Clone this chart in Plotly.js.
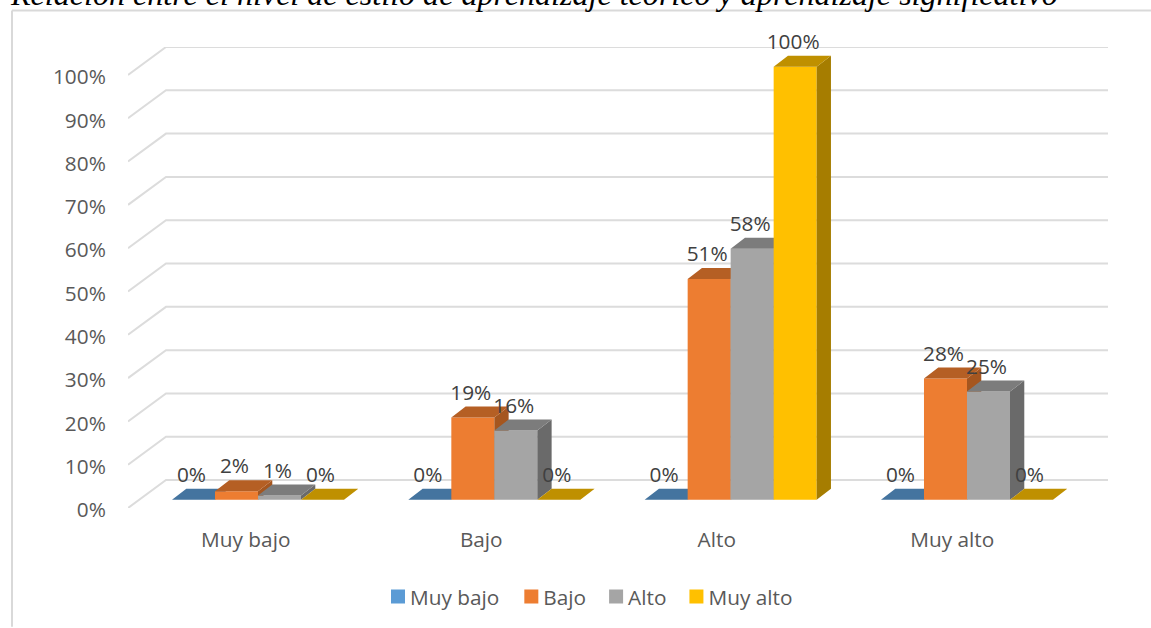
<!DOCTYPE html>
<html>
<head>
<meta charset="utf-8">
<script src="https://cdn.plot.ly/plotly-3.0.1.min.js"></script>
<style>html,body{margin:0;padding:0;background:#fff;overflow:hidden}#chart{width:1151px;height:628px}</style>
</head>
<body>
<div id="chart"></div>
<script>
// ---- data ----
const categories = ['Muy bajo', 'Bajo', 'Alto', 'Muy alto'];
const seriesNames = ['Muy bajo', 'Bajo', 'Alto', 'Muy alto'];
const valuesMuyBajo = [0, 0, 0, 0];
const valuesBajo = [2, 19, 51, 28];
const valuesAlto = [1, 16, 58, 25];
const valuesMuyAlto = [0, 0, 100, 0];
const yTicks = [0, 10, 20, 30, 40, 50, 60, 70, 80, 90, 100];
const titleText = 'Relación entre el nivel de estilo de aprendizaje teórico y aprendizaje significativo';

const allValues = [valuesMuyBajo, valuesBajo, valuesAlto, valuesMuyAlto];
const frontColors = ['#5b9bd5', '#ed7d31', '#a5a5a5', '#ffc000'];
const topColors = ['#44749f', '#b55f24', '#7c7c7c', '#bf9000'];
const sideColors = ['#3d6890', '#a5561f', '#6a6a6a', '#a67d00'];

// ---- plot geometry ----
const L = 128, R = 1108, T = 47, B = 509;
const pxPerPct = 4.34;
const groupPx = 236.33, firstGroupPx = 258, barPx = 43;
const barFloorPx = 500.8;
const depthX = 14.3 / groupPx, depthY = 11 / pxPerPct;
const labelLift = 1.5 / pxPerPct;
const barW = barPx / groupPx;
const wallX = 38 / 235.5, wallY = 28 / pxPerPct;
const catX = categories.map((c, i) => i);
const font = '"Open Sans", sans-serif';
const fontSize = 20.8;
const legendNudge = [0, -1, -4, -7];

const traces = [];

// walls / gridlines, on the primary axes
const gx = [], gy = [];
const primaryXMax = (R - L) / 235.5;
yTicks.forEach(v => {
  gx.push(0, wallX, primaryXMax, null);
  gy.push(v, v + wallY, v + wallY, null);
});
traces.push({type: 'scatter', mode: 'lines', x: gx, y: gy, xaxis: 'x', yaxis: 'y',
  line: {color: '#dcdcdc', width: 2}, cliponaxis: false, showlegend: false, hoverinfo: 'skip'});

// bars, one overlay per series, painted left to right
allValues.forEach((vals, s) => {
  const ax = s + 2;
  const left = i => i + (s - 2) * barW;
  const sx = [], sy = [], tx = [], ty = [];
  vals.forEach((v, i) => {
    const a = left(i), b = a + barW;
    sx.push(b, b + depthX, b + depthX, b, b, null);
    sy.push(0, depthY, v + depthY, v, 0, null);
    tx.push(a, b, b + depthX, a + depthX, a, null);
    ty.push(v, v, v + depthY, v + depthY, v, null);
  });
  traces.push({type: 'bar', name: seriesNames[s], x: catX, y: vals, width: barW, offset: (s - 2) * barW,
    marker: {color: frontColors[s], line: {width: 0}}, xaxis: 'x' + ax, yaxis: 'y' + ax,
    cliponaxis: false, hoverinfo: 'skip'});
  traces.push({type: 'scatter', mode: 'lines', x: sx, y: sy, fill: 'toself', fillcolor: sideColors[s],
    line: {width: 0, color: sideColors[s]}, xaxis: 'x' + ax, yaxis: 'y' + ax, cliponaxis: false,
    showlegend: false, hoverinfo: 'skip'});
  traces.push({type: 'scatter', mode: 'lines', x: tx, y: ty, fill: 'toself', fillcolor: topColors[s],
    line: {width: 0, color: topColors[s]}, xaxis: 'x' + ax, yaxis: 'y' + ax, cliponaxis: false,
    showlegend: false, hoverinfo: 'skip'});
});

// data labels above everything
allValues.forEach((vals, s) => {
  traces.push({type: 'scatter', mode: 'text', x: catX.map(i => i + (s - 1.5) * barW - 2 / groupPx),
    y: vals.map(v => v + depthY + labelLift), text: vals.map(v => v + '%'), textposition: 'top center',
    textfont: {family: font, size: fontSize, color: '#404040'}, xaxis: 'x5', yaxis: 'y5',
    cliponaxis: false, showlegend: false, hoverinfo: 'skip'});
});

const overlayX = [(L - firstGroupPx) / groupPx, (R - firstGroupPx) / groupPx];
const overlayY = [(barFloorPx - B) / pxPerPct, (barFloorPx - T) / pxPerPct];
const layout = {
  width: 1151, height: 628, autosize: false,
  margin: {l: L, r: 1151 - R, t: T, b: 628 - B, pad: 0},
  paper_bgcolor: '#fff', plot_bgcolor: 'rgba(0,0,0,0)',
  title: {text: titleText, x: 11 / 1151, xanchor: 'left', xref: 'container', y: 1 - 5 / 628, yref: 'container', yanchor: 'bottom',
    font: {family: '"Liberation Serif", serif', size: 32.1, color: '#000', style: 'italic'}, pad: {t: 0, b: 0, l: 0, r: 0}},
  barmode: 'overlay',
  xaxis: {range: [0, primaryXMax], tickmode: 'array', tickvals: categories.map((c, i) => i + 0.5), ticktext: categories,
    showgrid: false, zeroline: false, showline: false, ticks: 'outside', ticklen: 13, tickcolor: 'rgba(0,0,0,0)',
    tickfont: {family: font, size: fontSize, color: '#595959'}, fixedrange: true},
  yaxis: {range: [0, (B - T) / pxPerPct], tickmode: 'array', tickvals: yTicks, ticktext: yTicks.map(v => v + '%'),
    showgrid: false, zeroline: false, showline: false, ticks: 'outside', ticklen: 17, tickcolor: 'rgba(0,0,0,0)',
    ticklabelshift: 2,
    tickfont: {family: font, size: fontSize, color: '#595959'}, fixedrange: true},
  legend: {orientation: 'h', x: (378 - L) / (R - L), xanchor: 'left', y: (B - 597) / (B - T), yanchor: 'middle',
    font: {family: font, size: fontSize, color: '#595959'}, traceorder: 'normal', itemclick: false, itemdoubleclick: false,
    bgcolor: 'rgba(0,0,0,0)'},
  shapes: [
    {type: 'line', xref: 'paper', yref: 'paper', x0: (12 - L) / (R - L), x1: (12 - L) / (R - L), y0: (B - 10.5) / (B - T), y1: (B - 628) / (B - T), line: {color: '#d9d9d9', width: 2}},
    {type: 'line', xref: 'paper', yref: 'paper', x0: (12 - L) / (R - L), x1: (1151 - L) / (R - L), y0: (B - 10.5) / (B - T), y1: (B - 10.5) / (B - T), line: {color: '#d9d9d9', width: 2}}
  ],
  showlegend: true
};
[2, 3, 4, 5].forEach(n => {
  layout['xaxis' + n] = {range: overlayX, overlaying: 'x', visible: false, fixedrange: true};
  layout['yaxis' + n] = {range: overlayY, overlaying: 'y', visible: false, fixedrange: true};
});
Plotly.newPlot('chart', traces, layout, {displayModeBar: false, responsive: false}).then(() => {
  // tighten the legend: swatch size, swatch-to-label gap and entry spacing as in the reference
  document.querySelectorAll('.legend .legendtext').forEach(t => t.setAttribute('x', +t.getAttribute('x') - 8));
  document.querySelectorAll('.legend .legendundefined, .legend .legendbar path').forEach(p => p.setAttribute('d', 'M7,7H-7V-7H7Z'));
  document.querySelectorAll('.legend .traces').forEach((g, i) => {
    g.setAttribute('transform', g.getAttribute('transform') + ' translate(' + legendNudge[i] + ',0)');
  });
});
</script>
</body>
</html>
